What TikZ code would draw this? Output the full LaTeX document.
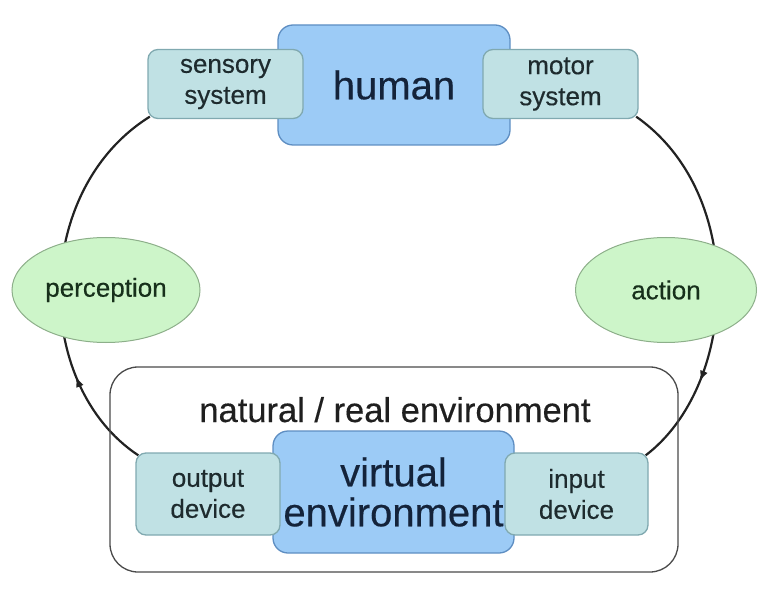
\documentclass[tikz,border=0pt]{standalone}
\usepackage{fontspec}
\setmainfont{Liberation Sans}[FakeBold=0.35]
\usetikzlibrary{shapes.geometric,arrows.meta,decorations.markings,backgrounds,calc}

\definecolor{coreFill}{HTML}{9CCBF6}
\definecolor{coreLine}{HTML}{5E8EC2}
\definecolor{coreText}{HTML}{14233A}
\definecolor{partFill}{HTML}{C0E1E4}
\definecolor{partLine}{HTML}{80A9B0}
\definecolor{partText}{HTML}{1E2B2E}
\definecolor{ovalFill}{HTML}{CDF5C9}
\definecolor{ovalLine}{HTML}{8DAF8A}
\definecolor{ovalText}{HTML}{17301B}
\definecolor{frameLine}{HTML}{4A4A4A}
\definecolor{loopLine}{HTML}{222222}

\tikzset{
  corebox/.style={draw=coreLine, fill=coreFill, line width=1.3pt, rounded corners=15pt,
    inner sep=0pt, align=center, text=coreText, font=\fontsize{40}{41}\selectfont},
  partbox/.style={draw=partLine, fill=partFill, line width=1.3pt, rounded corners=10pt,
    inner sep=0pt, align=center, text=partText, font=\fontsize{26}{31}\selectfont},
  oval/.style={ellipse, draw=ovalLine, fill=ovalFill, line width=1pt, inner sep=0pt,
    text=ovalText, font=\fontsize{26}{30}\selectfont},
  framebox/.style={draw=frameLine, line width=1.3pt, rounded corners=28pt, inner sep=0pt},
  loop/.style={draw=loopLine, line width=2.2pt,
    postaction={decorate}},
  tipmark/.style={decoration={markings,
    mark=at position #1 with {\arrow{Latex[length=11pt,width=8pt]}}}}
}

\begin{document}
\begin{tikzpicture}[x=1pt,y=-1pt]
\useasboundingbox (0,0) rectangle (767,593);

% surrounding real environment
\node[framebox, minimum width=568pt, minimum height=205pt] (real) at (394,469.5) {};
\node[font=\fontsize{34.5}{38}\selectfont, text=black!88, anchor=base] (realtxt) at (395,422)
  {natural / real environment};

% the human
\node[corebox, minimum width=232pt, minimum height=120pt] (human) at (394,85) {human};
\node[partbox, minimum width=155pt, minimum height=69pt] (sens) at (225.5,84) {sensory\\system};
\node[partbox, minimum width=155pt, minimum height=69pt] (motor) at (560.5,84) {motor\\system};

% the virtual environment
\node[corebox, minimum width=241pt, minimum height=122pt] (virt) at (393.5,492)
  {virtual\\[-1pt]environment};
\node[partbox, minimum width=144pt, minimum height=82pt] (out) at (208,494) {output\\device};
\node[partbox, minimum width=143pt, minimum height=82pt] (in) at (576.5,494) {input\\device};

% the two halves of the loop
\node[oval, minimum width=188pt, minimum height=105pt] (perc) at (106,290) {perception};
\node[oval, minimum width=181pt, minimum height=105pt] (act) at (666,290) {action};

\begin{scope}[on background layer]
  \draw[loop, tipmark=0.26]
    ($(out.north west)+(3,3)$) .. controls (32,385) and (32,190) .. ($(sens.south west)+(2.5,-2.5)$);
  \draw[loop, tipmark=0.76]
    ($(motor.south east)+(-2.5,-2.5)$) .. controls (748,195) and (738,385) .. ($(in.north east)+(-3,3)$);
\end{scope}
\end{tikzpicture}
\end{document}
